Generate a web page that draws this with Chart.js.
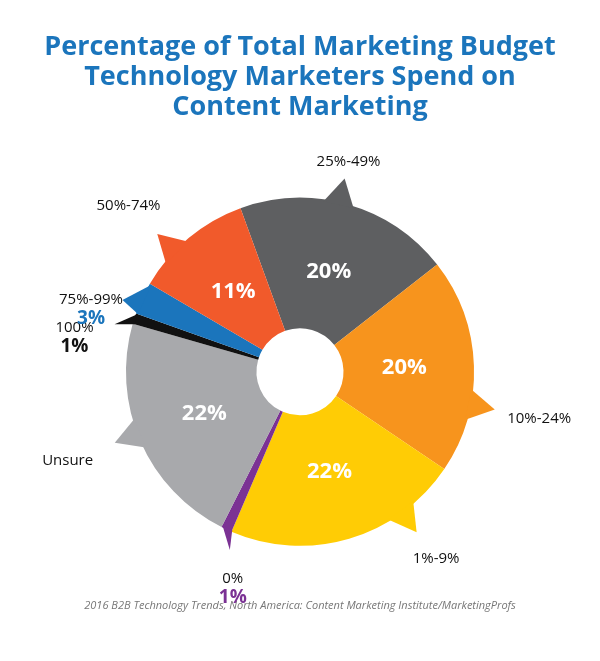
<!DOCTYPE html>
<html><head><meta charset="utf-8">
<script src="https://cdn.jsdelivr.net/npm/chart.js@4"></script>
<style>body{margin:0;background:#fff}#wrap{width:600px;height:661px}</style>
</head><body><div id="wrap"><canvas id="c"></canvas></div>
<script>
const categories = ["25%-49%", "10%-24%", "1%-9%", "0%", "Unsure", "100%", "75%-99%", "50%-74%"]
const shares = [20, 20, 22, 1, 22, 1, 3, 11]
const colors = ["#5e5f61", "#f7941d", "#ffcc05", "#7b3294", "#a8a9ac", "#111111", "#1b75bc", "#f15a2b"]
// where the outer caption sits: [angle deg clockwise from top, distance in radii]
const captionSpots = [[13, 1.24], [101, 1.40], [144, 1.33], [198, 1.25], [249, 1.43], [281, 1.32], [289, 1.27], [314, 1.37]]
const rotation = -20

const bubbles = {
  id: "bubbles",
  afterDatasetsDraw(chart) {
    const ctx = chart.ctx
    const arcs = chart.getDatasetMeta(0).data
    ctx.save()
    arcs.forEach((a, i) => {
      const cx = a.x, cy = a.y, r = a.outerRadius
      const mid = (a.startAngle + a.endAngle) / 2
      const span = a.endAngle - a.startAngle
      const tipA = (captionSpots[i][0] - 90) * Math.PI / 180
      const thin = span < 0.2
      const half = thin ? span / 2 : 0.09
      const baseA = thin ? mid : tipA
      const tr = r * (thin ? 1.1 : 1.14)
      const tipDir = thin ? (tipA + mid) / 2 : tipA
      ctx.fillStyle = colors[i]
      ctx.beginPath()
      ctx.moveTo(cx + Math.cos(baseA - half) * (r - 2), cy + Math.sin(baseA - half) * (r - 2))
      ctx.lineTo(cx + Math.cos(tipDir) * tr, cy + Math.sin(tipDir) * tr)
      ctx.lineTo(cx + Math.cos(baseA + half) * (r - 2), cy + Math.sin(baseA + half) * (r - 2))
      ctx.closePath()
      ctx.fill()
      if (shares[i] >= 5) {
        ctx.fillStyle = "#fff"
        ctx.font = "bold 22px 'Open Sans', sans-serif"
        ctx.textAlign = "center"
        ctx.textBaseline = "middle"
        const rr = r * 0.6
        ctx.fillText(shares[i] + "%", cx + Math.cos(mid) * rr, cy + Math.sin(mid) * rr)
      }
      const lx = cx + Math.cos(tipA) * r * captionSpots[i][1]
      const ly = cy + Math.sin(tipA) * r * captionSpots[i][1]
      ctx.fillStyle = "#111"
      ctx.font = "15px 'Open Sans', sans-serif"
      ctx.textAlign = "center"
      ctx.textBaseline = "middle"
      ctx.fillText(categories[i], lx, ly)
      if (shares[i] < 5) {
        ctx.fillStyle = colors[i]
        ctx.font = "bold 19px 'Open Sans', sans-serif"
        ctx.fillText(shares[i] + "%", lx, ly + 19)
      }
    })
    ctx.restore()
  }
}

new Chart("c", {
  type: "doughnut",
  data: { labels: categories, datasets: [{ data: shares, backgroundColor: colors, borderWidth: 0 }] },
  options: {
    animation: false,
    responsive: true,
    maintainAspectRatio: false,
    cutout: "25%",
    rotation: rotation,
    layout: { padding: { top: 0, bottom: 0, left: 40, right: 40 } },
    plugins: {
      legend: { display: false },
      tooltip: { enabled: false },
      title: {
        display: true,
        text: ["Percentage of Total Marketing Budget", "Technology Marketers Spend on", "Content Marketing"],
        color: "#1b75bc",
        font: { family: "'Open Sans', sans-serif", size: 27, weight: "bold", lineHeight: 1.12 },
        padding: { top: 32, bottom: 75 }
      },
      subtitle: {
        display: true,
        position: "bottom",
        text: "2016 B2B Technology Trends, North America: Content Marketing Institute/MarketingProfs",
        color: "#777",
        font: { family: "'Open Sans', sans-serif", size: 11, style: "italic" },
        padding: { top: 53, bottom: 49 }
      }
    }
  },
  plugins: [bubbles]
})
</script></body></html>
